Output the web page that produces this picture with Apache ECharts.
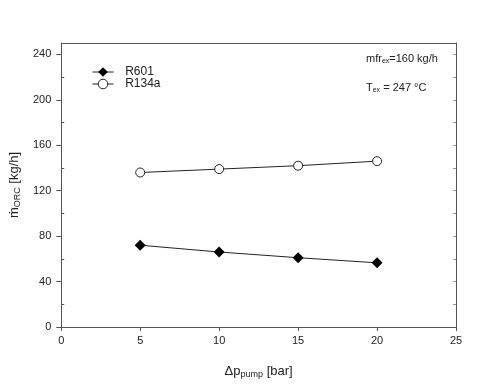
<!DOCTYPE html>
<html style="height: 100%">
<head>
<meta charset="utf-8">
<script src="https://cdn.jsdelivr.net/npm/echarts@6/dist/echarts.min.js"></script>
</head>
<body style="height: 100%; margin: 0; background: #fff">
<div id="container" style="width: 480px; height: 384px"></div>
<script type="text/javascript">
// data
var dpPump = [5, 10, 15, 20];
var r601 = [72, 66, 61, 56.5];
var r134a = [136, 139, 142, 146];
var xTicks = [0, 5, 10, 15, 20, 25];
var yTicks = [0, 40, 80, 120, 160, 200, 240];
var yMinor = [20, 60, 100, 140, 180, 220];
var yRight = [20, 40, 60, 80, 100, 120, 140, 160, 180, 200, 220, 240];

var FONT = 'Liberation Sans';
var AXIS = '#555';
var dom = document.getElementById('container');
var myChart = echarts.init(dom);

function pairs(xs, ys) {
	var arr = [];
	for (var i = 0; i < xs.length; i++) arr.push([xs[i], ys[i]]);
	return arr;
}

var option = {
	animation: false,
	textStyle: { fontFamily: FONT },
	grid: { left: 61, right: 24, top: 43, bottom: 56 },
	legend: {
		orient: 'vertical',
		left: 92,
		top: 66,
		padding: 0,
		itemWidth: 21,
		itemHeight: 12,
		itemGap: 0,
		lineStyle: { width: 1 },
		itemStyle: { borderWidth: 1 },
		formatter: '  {name}',
		textStyle: { fontFamily: FONT, fontSize: 12, color: '#222' },
		data: ['R601', 'R134a']
	},
	xAxis: [{
		type: 'value', min: 0, max: 25,
		axisLine: { onZero: false, lineStyle: { color: AXIS, width: 1 } },
		axisTick: { length: 4, customValues: xTicks, lineStyle: { color: AXIS } },
		splitLine: { show: false },
		axisLabel: { customValues: xTicks, fontFamily: FONT, fontSize: 11, color: '#222', margin: 8 },
		name: '{n|Δp}{s|pump}{n| [bar]}',
		nameLocation: 'middle',
		nameGap: 37,
		nameTextStyle: {
			rich: {
				n: { fontFamily: FONT, fontSize: 13, color: '#222' },
				s: { fontFamily: FONT, fontSize: 9, color: '#222', verticalAlign: 'bottom', padding: [6, 0, 0, 0] }
			}
		}
	}, {
		// top frame
		type: 'value', position: 'top', min: 0, max: 25,
		axisLine: { show: true, onZero: false, lineStyle: { color: AXIS, width: 1 } },
		axisTick: { show: false }, axisLabel: { show: false }, splitLine: { show: false }
	}],
	yAxis: [{
		type: 'value', min: 0, max: 250,
		axisLine: { show: true, onZero: false, lineStyle: { color: AXIS, width: 1 } },
		axisTick: { length: 5, customValues: yTicks, lineStyle: { color: AXIS } },
		splitLine: { show: false },
		axisLabel: { customValues: yTicks, fontFamily: FONT, fontSize: 11, color: '#222', margin: 10 },
		name: '{n|ṁ}{s|ORC}{n| [kg/h]}',
		nameLocation: 'middle',
		nameGap: 38,
		nameTextStyle: {
			rich: {
				n: { fontFamily: FONT, fontSize: 13, color: '#222' },
				s: { fontFamily: FONT, fontSize: 9, color: '#222', verticalAlign: 'bottom', padding: [6, 0, 0, 0] }
			}
		}
	}, {
		// minor ticks, inside
		type: 'value', position: 'left', min: 0, max: 250,
		axisLine: { show: false, onZero: false },
		axisTick: { inside: true, length: 3, customValues: yMinor, lineStyle: { color: AXIS } },
		axisLabel: { show: false }, splitLine: { show: false }
	}, {
		// right frame
		type: 'value', position: 'right', min: 0, max: 250,
		axisLine: { show: true, onZero: false, lineStyle: { color: AXIS, width: 1 } },
		axisTick: { inside: true, length: 3, customValues: yRight, lineStyle: { color: '#999' } },
		axisLabel: { show: false }, splitLine: { show: false }
	}],
	graphic: [{
		type: 'text', left: 366, top: 53,
		style: {
			text: '{n|mfr}{s|ex}{n|=160 kg/h}',
			rich: {
				n: { fontFamily: FONT, fontSize: 11, fill: '#222' },
				s: { fontFamily: FONT, fontSize: 7, fill: '#222', verticalAlign: 'bottom', padding: [5, 0, 0, 0] }
			}
		}
	}, {
		type: 'text', left: 366, top: 82,
		style: {
			text: '{n|T}{s|ex}{n| = 247 °C}',
			rich: {
				n: { fontFamily: FONT, fontSize: 11, fill: '#222' },
				s: { fontFamily: FONT, fontSize: 7, fill: '#222', verticalAlign: 'bottom', padding: [5, 0, 0, 0] }
			}
		}
	}],
	series: [{
		name: 'R601',
		type: 'line',
		data: pairs(dpPump, r601),
		symbol: 'diamond',
		symbolSize: 11,
		itemStyle: { color: '#000' },
		lineStyle: { color: '#222', width: 1 }
	}, {
		name: 'R134a',
		type: 'line',
		data: pairs(dpPump, r134a),
		symbol: 'circle',
		symbolSize: 9,
		itemStyle: { color: '#fff', borderColor: '#222', borderWidth: 1 },
		lineStyle: { color: '#222', width: 1 }
	}]
};

myChart.setOption(option);
</script>
</body>
</html>
